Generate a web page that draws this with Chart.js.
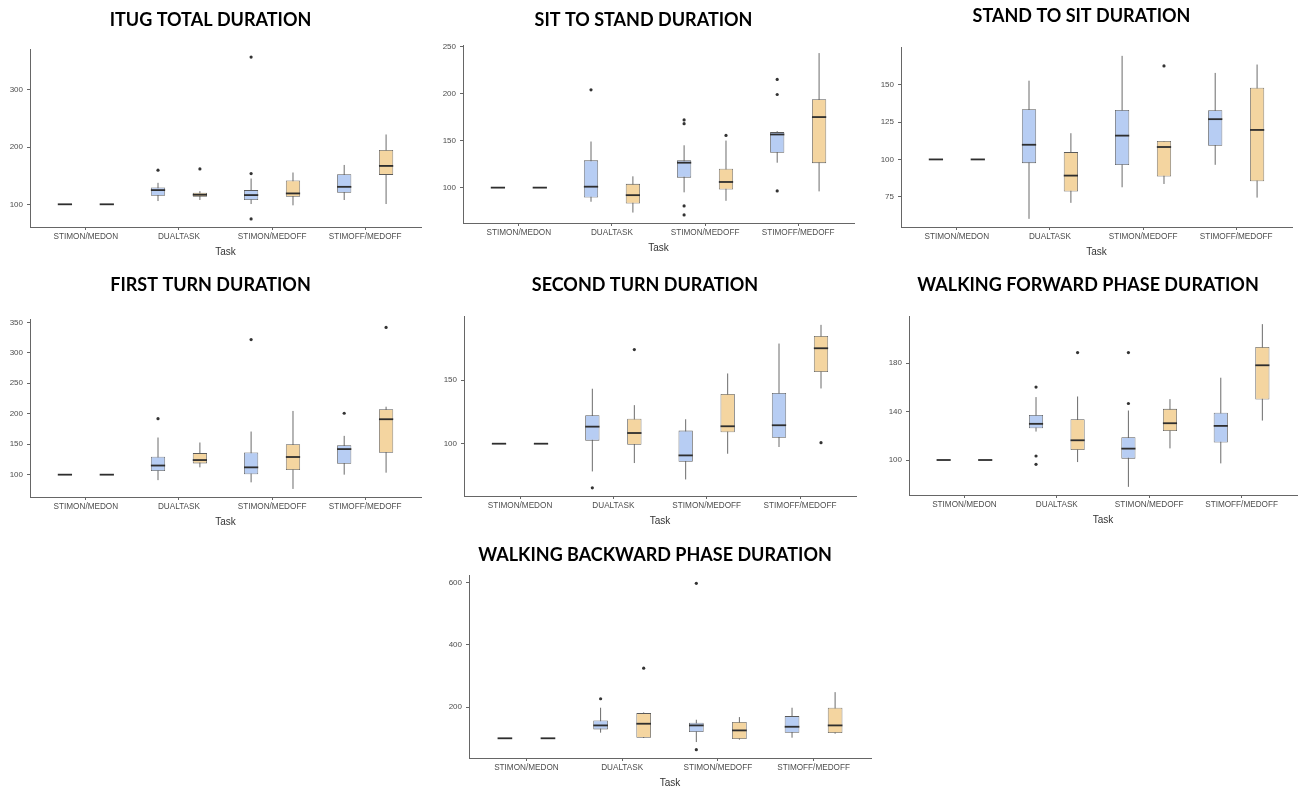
<!DOCTYPE html>
<html>
<head>
<meta charset="utf-8">
<title>iTUG durations</title>
<script src="https://cdn.jsdelivr.net/npm/chart.js@4.4.0/dist/chart.umd.min.js"></script>
<style>
  html, body { margin: 0; padding: 0; background: #fff; }
  body { width: 1299px; height: 790px; position: relative; overflow: hidden; }
  canvas { position: absolute; }
</style>
</head>
<body>
<canvas id="itug"></canvas>
<canvas id="sitStand"></canvas>
<canvas id="standSit"></canvas>
<canvas id="firstTurn"></canvas>
<canvas id="secondTurn"></canvas>
<canvas id="walkFwd"></canvas>
<canvas id="walkBack"></canvas>
<script>
// ========== DATA ==========
// each box: [lower whisker, Q1, median, Q3, upper whisker]; A = blue, B = orange
const categories = ['STIMON/MEDON', 'DUALTASK', 'STIMON/MEDOFF', 'STIMOFF/MEDOFF'];

const itugTicks = [100, 200, 300];
const itugA = [[100, 100, 100, 100, 100], [105.7, 115, 124.8, 129.5, 137.5], [100.5, 107.5, 116.1, 124.8, 145], [107.5, 120.2, 130.5, 152.5, 168.7]];
const itugB = [[100, 100, 100, 100, 100], [107.5, 113.3, 116.7, 120.2, 123], [98.2, 113.3, 119, 141.6, 155.5], [100.5, 151.3, 167, 194.7, 221.9]];
const itugAOut = [[], [159.5], [357, 153.7, 74.5], []];
const itugBOut = [[], [161.7], [], []];

const sitStandTicks = [100, 150, 200, 250];
const sitStandA = [[100, 100, 100, 100, 100], [85, 89.4, 101, 129, 149], [95, 110.6, 126.5, 129, 145], [126.5, 137, 156.5, 159, 160]];
const sitStandB = [[100, 100, 100, 100, 100], [73.5, 83, 92, 104, 112], [86, 98, 106, 120, 150], [96, 126, 175, 194, 243]];
const sitStandAOut = [[], [204], [172, 168, 80.6, 71], [215, 199, 96.5]];
const sitStandBOut = [[], [], [155.5], []];

const standSitTicks = [75, 100, 125, 150];
const standSitA = [[100, 100, 100, 100, 100], [60.3, 97.5, 109.8, 133.6, 152.6], [81.4, 96.2, 115.9, 133.1, 169.2], [96.4, 109.1, 126.9, 132.9, 157.8]];
const standSitB = [[100, 100, 100, 100, 100], [71, 78.5, 89.2, 104.9, 117.5], [83.6, 88.6, 108.3, 112.3, 112.3], [74.5, 85.4, 119.7, 147.9, 163.4]];
const standSitAOut = [[], [], [], []];
const standSitBOut = [[], [], [162.5], []];

const firstTurnTicks = [100, 150, 200, 250, 300, 350];
const firstTurnA = [[100, 100, 100, 100, 100], [91, 106, 115, 129.4, 161], [87.4, 100.5, 112, 136.5, 170.8], [100, 118, 142, 148.5, 163.7]];
const firstTurnB = [[100, 100, 100, 100, 100], [112, 118.5, 124, 135.4, 152.8], [76.6, 107.6, 129, 150, 204.6], [103.3, 136, 191, 207.3, 211.6]];
const firstTurnAOut = [[], [192], [321.7], [200.8]];
const firstTurnBOut = [[], [], [], [341.8]];

const secondTurnTicks = [100, 150];
const secondTurnA = [[100, 100, 100, 100, 100], [78.2, 102.4, 113.4, 122.4, 143.2], [71.9, 85.8, 90.8, 110.3, 119.2], [97.4, 104.7, 114.5, 139.8, 178.7]];
const secondTurnB = [[100, 100, 100, 100, 100], [84.8, 99.2, 108.4, 119.7, 130.3], [92.1, 109, 113.7, 139, 155.2], [143.4, 156.3, 175, 184.7, 193.4]];
const secondTurnAOut = [[], [65.3], [], []];
const secondTurnBOut = [[], [174], [], [100.8]];

const walkFwdTicks = [100, 140, 180];
const walkFwdA = [[100, 100, 100, 100, 100], [123.5, 126.2, 129.9, 137.3, 152], [77.8, 101.1, 109.4, 118.8, 140.9], [97.2, 114.4, 128.2, 139, 168]];
const walkFwdB = [[100, 100, 100, 100, 100], [98.3, 108.3, 116.3, 133.7, 152.5], [109.6, 124, 130.4, 142.3, 150.3], [132.6, 150, 178.3, 193.5, 212.3]];
const walkFwdAOut = [[], [160.3, 103.3, 96.4], [188.8, 146.7], []];
const walkFwdBOut = [[], [188.8], [], []];

const walkBackTicks = [200, 400, 600];
const walkBackA = [[100, 100, 100, 100, 100], [118, 128.5, 141.3, 157.3, 198], [88, 120, 141.3, 150, 159.5], [101.9, 118, 137, 171.2, 198]];
const walkBackB = [[100, 100, 100, 100, 100], [101, 101.9, 146.7, 180.8, 183], [95.5, 97.6, 125.3, 152, 168], [114.7, 116.8, 141.3, 198, 248]];
const walkBackAOut = [[], [226.7], [596.8, 63.5], []];
const walkBackBOut = [[], [324.8], [], []];

// ========== STYLE / LAYOUT ==========
const BLUE = '#b7cdf3';
const ORANGE = '#f4d5a0';
const AXIS = '#666';

const panels = [
  { id: 'itug', title: 'ITUG TOTAL DURATION', a: itugA, b: itugB, aOut: itugAOut, bOut: itugBOut, ticks: itugTicks, x: 0, y: 5, w: 426, h: 253, gap: 17.8, padR: 5 },
  { id: 'sitStand', title: 'SIT TO STAND DURATION', a: sitStandA, b: sitStandB, aOut: sitStandAOut, bOut: sitStandBOut, ticks: sitStandTicks, x: 433, y: 5, w: 426, h: 249, gap: 13.8, padR: 5 },
  { id: 'standSit', title: 'STAND TO SIT DURATION', a: standSitA, b: standSitB, aOut: standSitAOut, bOut: standSitBOut, ticks: standSitTicks, x: 871, y: 1, w: 426, h: 257, gap: 20.5, padR: 5 },
  { id: 'firstTurn', title: 'FIRST TURN DURATION', a: firstTurnA, b: firstTurnB, aOut: firstTurnAOut, bOut: firstTurnBOut, ticks: firstTurnTicks, x: 0, y: 270, w: 426, h: 258, gap: 23.1, padR: 5 },
  { id: 'secondTurn', title: 'SECOND TURN DURATION', a: secondTurnA, b: secondTurnB, aOut: secondTurnAOut, bOut: secondTurnBOut, ticks: secondTurnTicks, x: 434, y: 270, w: 427, h: 257, gap: 20.5, padR: 5 },
  { id: 'walkFwd', title: 'WALKING FORWARD PHASE DURATION', a: walkFwdA, b: walkFwdB, aOut: walkFwdAOut, bOut: walkFwdBOut, ticks: walkFwdTicks, x: 879, y: 270, w: 420, h: 256, gap: 19.8, padR: 2 },
  { id: 'walkBack', title: 'WALKING BACKWARD PHASE DURATION', a: walkBackA, b: walkBackB, aOut: walkBackAOut, bOut: walkBackBOut, ticks: walkBackTicks, x: 439, y: 540, w: 437, h: 249, gap: 8.8, padR: 5 }
];

Chart.defaults.font.family = "'Liberation Sans', Arial, sans-serif";

// ========== BOX PLOT PIECES (whiskers, medians, outliers) ==========
const boxPlotPlugin = {
  id: 'boxPlot',
  beforeDatasetsDraw(chart) {
    const { ctx, scales: { y } } = chart;
    ctx.save();
    ctx.strokeStyle = '#6b6b6b';
    ctx.lineWidth = 1;
    chart.data.datasets.forEach((ds, d) => {
      chart.getDatasetMeta(d).data.forEach((bar, i) => {
        const s = ds.stats[i];
        ctx.beginPath();
        ctx.moveTo(bar.x, y.getPixelForValue(s[0]));
        ctx.lineTo(bar.x, y.getPixelForValue(s[4]));
        ctx.stroke();
      });
    });
    ctx.restore();
  },
  afterDatasetsDraw(chart) {
    const { ctx, scales: { y } } = chart;
    ctx.save();
    chart.data.datasets.forEach((ds, d) => {
      chart.getDatasetMeta(d).data.forEach((bar, i) => {
        const s = ds.stats[i];
        const my = y.getPixelForValue(s[2]);
        ctx.strokeStyle = '#2e2e2e';
        ctx.lineWidth = 1.8;
        ctx.beginPath();
        ctx.moveTo(bar.x - bar.width / 2, my);
        ctx.lineTo(bar.x + bar.width / 2, my);
        ctx.stroke();
        ctx.fillStyle = '#333';
        ds.outliers[i].forEach(v => {
          ctx.beginPath();
          ctx.arc(bar.x, y.getPixelForValue(v), 1.6, 0, Math.PI * 2);
          ctx.fill();
        });
      });
    });
    ctx.restore();
  }
};

function makeSet(label, stats, outliers, color) {
  return {
    label,
    data: stats.map((s, i) => ({ x: i, y: [s[1], s[3]] })),
    stats,
    outliers,
    backgroundColor: color,
    borderColor: '#5a5a5a',
    borderWidth: 0.8,
    borderSkipped: false,
    categoryPercentage: 0.9,
    barPercentage: 0.34
  };
}

function buildPanel(p) {
  const el = document.getElementById(p.id);
  el.width = p.w;
  el.height = p.h;
  el.style.left = p.x + 'px';
  el.style.top = p.y + 'px';

  // ggplot-like 5% expansion of the data range
  const all = [].concat(...p.a, ...p.b, ...p.aOut, ...p.bOut);
  const lo = Math.min(...all), hi = Math.max(...all);
  const pad = (hi - lo) * 0.05;

  new Chart(el, {
    type: 'bar',
    data: {
      datasets: [makeSet('A', p.a, p.aOut, BLUE), makeSet('B', p.b, p.bOut, ORANGE)]
    },
    plugins: [boxPlotPlugin],
    options: {
      responsive: false,
      animation: false,
      devicePixelRatio: 1,
      layout: { padding: { left: 0, right: p.padR, top: 0, bottom: 0 } },
      plugins: {
        legend: { display: false },
        tooltip: { enabled: false },
        title: {
          display: true,
          text: p.title,
          color: '#000',
          font: { family: 'Lato', size: 18, weight: 'bold' },
          padding: { top: 4.3, bottom: p.gap + 0.3 }
        }
      },
      scales: {
        x: {
          type: 'linear',
          offset: false,
          min: -0.6,
          max: categories.length - 0.4,
          afterBuildTicks: s => { s.ticks = categories.map((c, i) => ({ value: i })); },
          afterFit: s => { s.height = 31; },
          grid: { offset: false, drawOnChartArea: false, drawTicks: true, tickLength: 3, color: AXIS },
          border: { display: true, color: AXIS, width: 1 },
          ticks: {
            autoSkip: false,
            maxRotation: 0,
            padding: 2,
            color: '#4d4d4d',
            font: { size: 8.2 },
            callback: v => categories[v]
          },
          title: {
            display: true,
            text: 'Task',
            color: '#333',
            font: { size: 10 },
            padding: { top: 0, bottom: 0 }
          }
        },
        y: {
          min: lo - pad,
          max: hi + pad,
          afterBuildTicks: s => { s.ticks = p.ticks.map(v => ({ value: v })); },
          afterFit: s => { s.width = 30; },
          grid: { drawOnChartArea: false, drawTicks: true, tickLength: 3, color: AXIS },
          border: { display: true, color: AXIS, width: 1 },
          ticks: { padding: 4, color: '#4d4d4d', font: { size: 8 } }
        }
      }
    }
  });
}

document.addEventListener('DOMContentLoaded', () => {
  panels.forEach(buildPanel);
});
</script>
</body>
</html>
